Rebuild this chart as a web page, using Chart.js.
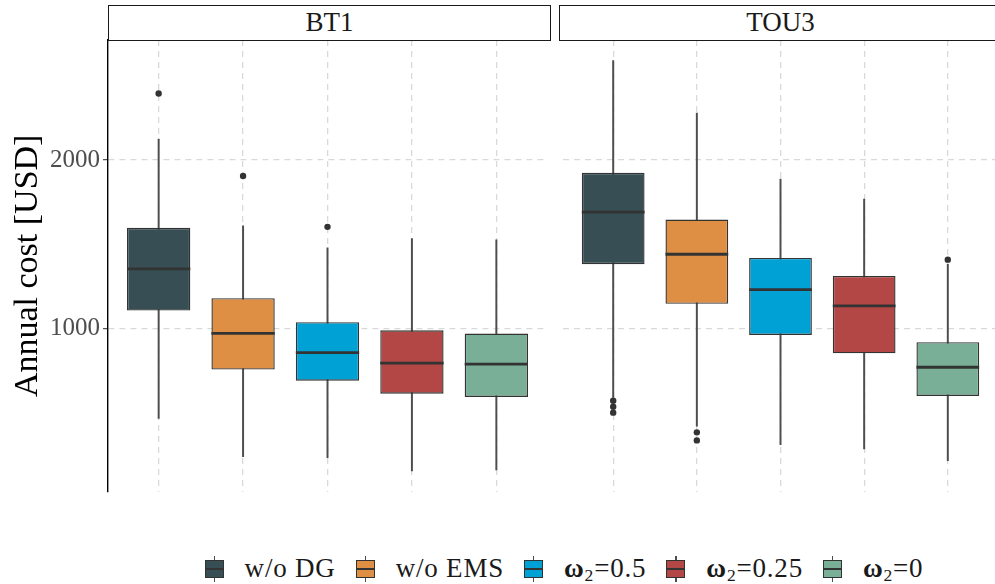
<!DOCTYPE html>
<html lang="en">
<head>
  <meta charset="UTF-8">
  <title>Annual cost by tariff</title>
  <script src="https://cdn.jsdelivr.net/npm/chart.js"></script>
  <style>
    body { margin: 0; background: #fff; font-family: "Liberation Serif", "Times New Roman", "DejaVu Serif", serif; }
    #wrap { position: relative; width: 995px; height: 584px; overflow: hidden; }
    canvas { position: absolute; top: 0; }
    .strip { position: absolute; top: 5px; height: 36px; width: 443px; box-sizing: border-box; border: 1.4px solid #1a1a1a; background: #fff; text-align: center; font-size: 27px; line-height: 33px; color: #1a1a1a; }
    #legend { position: absolute; top: 552px; left: 0; width: 1128px; height: 33px; display: flex; justify-content: center; align-items: center; font-size: 27px; letter-spacing: 0.8px; color: #1a1a1a; }
    .item { display: flex; align-items: center; margin: 0 10px; white-space: nowrap; }
    .glyph { position: relative; width: 19px; height: 26px; margin-right: 21px; }
    .glyph .w { position: absolute; left: 9px; top: 0; bottom: 0; width: 1.3px; background: #4d4d4d; }
    .glyph .b { position: absolute; left: 0; right: 0; top: 4px; height: 18px; box-sizing: border-box; border: 1.4px solid #333; }
    .glyph .m { position: absolute; left: 0; right: 0; top: 50%; height: 2px; margin-top: -1px; background: #333; }
    .om { font-weight: bold; }
    sub { font-size: 0.65em; vertical-align: -0.25em; line-height: 0; }
  </style>
</head>
<body>
  <div id="wrap">
    <canvas id="bt1Chart" width="551" height="520" style="left:0"></canvas>
    <canvas id="tou3Chart" width="443" height="520" style="left:559px"></canvas>
    <div class="strip" style="left:108px">BT1</div>
    <div class="strip" style="left:559px">TOU3</div>
    <div id="legend"></div>
  </div>

  <script>
    const scenarios = ['w/o DG', 'w/o EMS', 'ω2=0.5', 'ω2=0.25', 'ω2=0'];
    const colors = ['#374E55', '#DF8F44', '#00A1D5', '#B24745', '#79AF97'];
    const yTicks = [1000, 2000];
    const yMin = 28;
    const yMax = 2714;
    const serif = '"Liberation Serif", "Times New Roman", "DejaVu Serif", serif';

    // BT1 tariff: whisker ends, quartiles, medians, outliers
    const bt1Low = [464, 236, 230, 151, 158];
    const bt1Q1 = [1105, 754, 688, 611, 591];
    const bt1Med = [1353, 970, 855, 792, 787];
    const bt1Q3 = [1597, 1179, 1036, 988, 968];
    const bt1High = [2125, 1609, 1478, 1533, 1526];
    const bt1Out = [[2396], [1905], [1603], [], []];

    // TOU3 tariff
    const tou3Low = [588, 418, 307, 283, 212];
    const tou3Q1 = [1381, 1145, 960, 851, 597];
    const tou3Med = [1690, 1440, 1230, 1133, 768];
    const tou3Q3 = [1924, 1646, 1418, 1311, 917];
    const tou3High = [2591, 2280, 1887, 1768, 1380];
    const tou3Out = [[569, 533, 498], [381, 333], [], [], [1408]];

    const xs = scenarios.map((_, i) => i + 1);

    // thick median line across each box
    const medianPlugin = {
      id: 'medianLines',
      afterDatasetsDraw(chart) {
        const meta = chart.getDatasetMeta(1);
        const meds = chart.data.datasets[1].medians;
        const y = chart.scales.y;
        const ctx = chart.ctx;
        ctx.save();
        ctx.strokeStyle = '#333';
        ctx.lineWidth = 2.8;
        meta.data.forEach((bar, i) => {
          const py = y.getPixelForValue(meds[i]);
          ctx.beginPath();
          ctx.moveTo(bar.x - bar.width / 2, py);
          ctx.lineTo(bar.x + bar.width / 2, py);
          ctx.stroke();
        });
        ctx.restore();
      }
    };

    function drawPanel(id, low, q1, med, q3, high, out, showAxis) {
      const outliers = [];
      out.forEach((vals, i) => vals.forEach(v => outliers.push({ x: i + 1, y: v })));

      return new Chart(document.getElementById(id), {
        type: 'bar',
        data: {
          datasets: [
            {
              // whiskers
              type: 'bar',
              data: xs.map((x, i) => ({ x, y: [low[i], high[i]] })),
              backgroundColor: '#4d4d4d',
              barThickness: 1.3,
              grouped: false,
              order: 3
            },
            {
              // boxes from Q1 to Q3
              type: 'bar',
              data: xs.map((x, i) => ({ x, y: [q1[i], q3[i]] })),
              medians: med,
              backgroundColor: colors,
              borderColor: '#333',
              borderWidth: 1.4,
              borderSkipped: false,
              grouped: false,
              categoryPercentage: 1,
              barPercentage: 0.75,
              order: 2
            },
            {
              type: 'scatter',
              data: outliers,
              backgroundColor: '#333',
              borderWidth: 0,
              pointRadius: 3.2,
              order: 1
            }
          ]
        },
        options: {
          responsive: false,
          animation: false,
          events: [],
          layout: { padding: { top: 40, bottom: 28.3, left: 0, right: 0 } },
          plugins: { legend: { display: false }, tooltip: { enabled: false } },
          scales: {
            x: {
              type: 'linear',
              min: 0.4,
              max: 5.6,
              offset: false,
              afterBuildTicks: a => { a.ticks = xs.map(v => ({ value: v })); },
              afterFit: a => { a.height = 0; },
              ticks: { display: false },
              grid: { color: '#d9d9d9', lineWidth: 1.3, drawTicks: false, offset: false },
              border: { display: false, dash: [6, 5] }
            },
            y: {
              min: yMin,
              max: yMax,
              afterBuildTicks: a => { a.ticks = yTicks.map(v => ({ value: v })); },
              afterFit: a => { a.width = showAxis ? 108 : 0; },
              ticks: {
                display: showAxis,
                callback: v => String(v),
                color: '#4d4d4d',
                font: { family: serif, size: 25 },
                padding: 3
              },
              grid: { color: '#d9d9d9', lineWidth: 1.3, drawTicks: showAxis, tickLength: 5, tickColor: '#4d4d4d', tickWidth: 1.2 },
              border: { display: showAxis, color: '#000', width: 1.4, dash: [6, 5] },
              title: {
                display: showAxis,
                text: 'Annual cost [USD]',
                color: '#000',
                font: { family: serif, size: 34 },
                padding: { top: 8, bottom: 0 }
              }
            }
          }
        },
        plugins: [medianPlugin]
      });
    }

    drawPanel('bt1Chart', bt1Low, bt1Q1, bt1Med, bt1Q3, bt1High, bt1Out, true);
    drawPanel('tou3Chart', tou3Low, tou3Q1, tou3Med, tou3Q3, tou3High, tou3Out, false);

    // legend with small box glyphs
    const legend = document.getElementById('legend');
    scenarios.forEach((name, i) => {
      const item = document.createElement('div');
      item.className = 'item';
      const label = name.replace('ω2', '<span class="om">ω</span><sub>2</sub>');
      item.innerHTML = '<div class="glyph"><div class="w"></div><div class="b" style="background:' + colors[i] + '"><div class="m"></div></div></div><span>' + label + '</span>';
      legend.appendChild(item);
    });
  </script>
</body>
</html>
